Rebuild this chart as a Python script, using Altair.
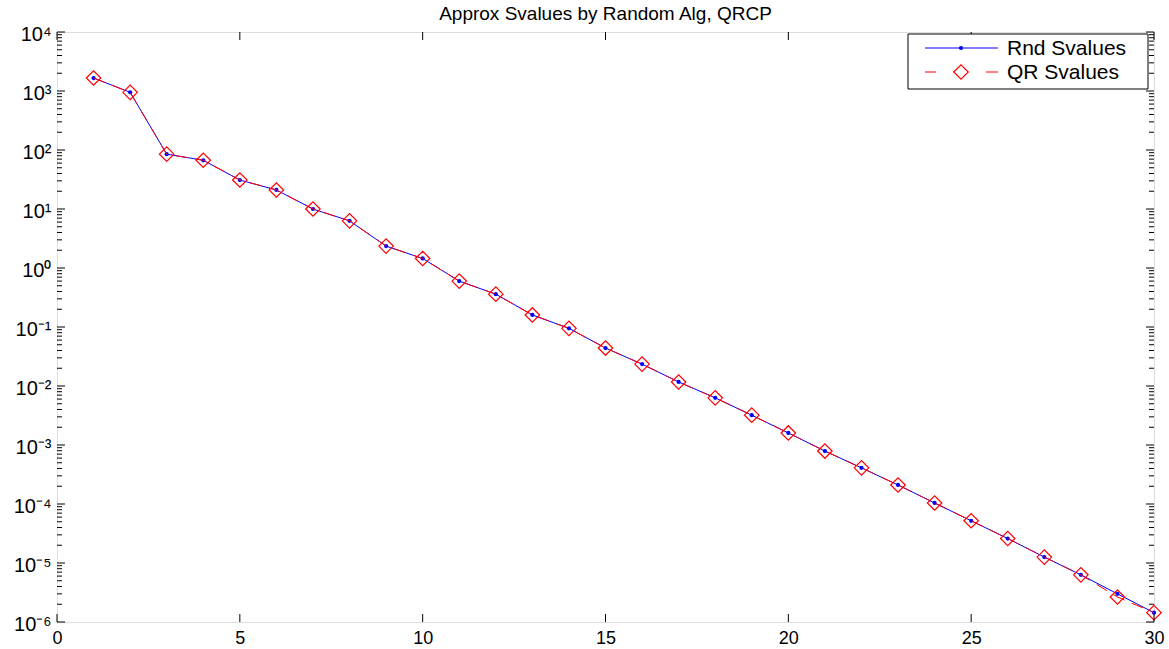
import altair as alt
import pandas as pd

# ---- data ----
k = list(range(1, 31))
rnd_svalues = [1660, 950, 85, 67, 31, 21, 10, 6.3, 2.35, 1.45,
               0.6, 0.36, 0.16, 0.095, 0.044, 0.0235, 0.0117, 0.0063, 0.0032, 0.0016,
               7.9e-4, 4.1e-4, 2.1e-4, 1.04e-4, 5.2e-5, 2.6e-5, 1.26e-5, 6.3e-6, 3.0e-6, 1.44e-6]
qr_svalues = [1660, 950, 85, 67, 31, 21, 10, 6.3, 2.35, 1.45,
              0.6, 0.36, 0.16, 0.095, 0.044, 0.0235, 0.0117, 0.0063, 0.0032, 0.0016,
              7.9e-4, 4.1e-4, 2.1e-4, 1.04e-4, 5.2e-5, 2.6e-5, 1.26e-5, 6.3e-6, 2.65e-6, 1.44e-6]
x_ticks = [0, 5, 10, 15, 20, 25, 30]
y_exponents = [-6, -5, -4, -3, -2, -1, 0, 1, 2, 3, 4]
title_text = "Approx Svalues by Random Alg, QRCP"
legend_labels = ["Rnd Svalues", "QR Svalues"]

W, H = 1097, 590
FONT = "Liberation Sans"

sup = {"-": "⁻", "0": "⁰", "1": "¹", "2": "²", "3": "³", "4": "⁴",
       "5": "⁵", "6": "⁶", "7": "⁷", "8": "⁸", "9": "⁹"}
def sup_str(e):
    return "".join(sup[c] for c in str(e))

y_major = [10.0 ** e for e in y_exponents]
y_minor = [m * 10.0 ** e for e in y_exponents[:-1] for m in range(2, 10)]

parts = []
for e in y_exponents[::-1]:
    parts.append(f"datum.value > {10.0 ** e * 0.5} ? '10{sup_str(e)}'")
label_expr = " : ".join(parts) + " : ''"

df = pd.DataFrame({"k": k, "rnd": rnd_svalues, "qr": qr_svalues})

xscale = alt.Scale(domain=[0, 30], nice=False, zero=False)
yscale = alt.Scale(type="log", domain=[1e-6, 1e4], nice=False)

xaxis = alt.Axis(values=x_ticks, ticks=False, domain=False, grid=False, labelFont=FONT,
                 labelFontSize=18, labelColor="black", labelPadding=7, title=None,
                 labelFlush=False)
yaxis = alt.Axis(values=y_major, ticks=False, domain=False, grid=False, labelFont=FONT,
                 labelFontSize=20, labelColor="black", labelPadding=6, title=None,
                 labelExpr=label_expr, labelFlush=False, labelOffset=2)

def X(field):
    return alt.X(field, scale=xscale, axis=xaxis)
def Y(field):
    return alt.Y(field, scale=yscale, axis=yaxis)

base = alt.Chart(df)
rnd_line = base.mark_line(color="#0000ff", strokeWidth=1).encode(x=X("k:Q"), y=Y("rnd:Q"))
rnd_pts = base.mark_point(shape="circle", filled=True, color="#0000ff", size=18, opacity=1).encode(
    x=X("k:Q"), y=Y("rnd:Q"))
qr_line = base.mark_line(color="#ff0000", strokeWidth=1, strokeDash=[12, 8]).encode(
    x=X("k:Q"), y=Y("qr:Q"))
qr_pts = base.mark_point(shape="diamond", filled=False, color="#ff0000", size=210,
                         strokeWidth=1.2, opacity=1).encode(x=X("k:Q"), y=Y("qr:Q"))

# inward tick marks (MATLAB style)
ymaj_df = pd.DataFrame({"v": y_major})
ymin_df = pd.DataFrame({"v": y_minor})
xt_df = pd.DataFrame({"v": x_ticks})

def yticks(d, length):
    left = alt.Chart(d).mark_rule(color="black", strokeWidth=1).encode(
        y=Y("v:Q"), x=alt.value(0), x2=alt.value(length))
    right = alt.Chart(d).mark_rule(color="black", strokeWidth=1).encode(
        y=Y("v:Q"), x=alt.value(W - length), x2=alt.value(W))
    return [left, right]

xtick_b = alt.Chart(xt_df).mark_rule(color="black", strokeWidth=1).encode(
    x=X("v:Q"), y=alt.value(H - 8), y2=alt.value(H))
xtick_t = alt.Chart(xt_df).mark_rule(color="black", strokeWidth=1).encode(
    x=X("v:Q"), y=alt.value(0), y2=alt.value(8))

# legend box
one = pd.DataFrame({"a": [0]})
lx0, lx1, ly0, ly1 = 851, 1091, 2, 57
r1, r2 = 16, 40
leg_box = alt.Chart(one).mark_rect(fill="white", stroke="black", strokeWidth=1).encode(
    x=alt.value(lx0), x2=alt.value(lx1), y=alt.value(ly0), y2=alt.value(ly1))
leg_l1 = alt.Chart(one).mark_rule(color="#0000ff", strokeWidth=1).encode(
    x=alt.value(868), x2=alt.value(941), y=alt.value(r1))
leg_p1 = alt.Chart(one).mark_point(shape="circle", filled=True, color="#0000ff", size=18, opacity=1).encode(
    x=alt.value(904), y=alt.value(r1))
leg_l2a = alt.Chart(one).mark_rule(color="#ff0000", strokeWidth=1).encode(
    x=alt.value(868), x2=alt.value(879), y=alt.value(r2))
leg_l2b = alt.Chart(one).mark_rule(color="#ff0000", strokeWidth=1).encode(
    x=alt.value(929), x2=alt.value(941), y=alt.value(r2))
leg_p2 = alt.Chart(one).mark_point(shape="diamond", filled=False, color="#ff0000", size=210,
                                   strokeWidth=1.2, opacity=1).encode(
    x=alt.value(904), y=alt.value(r2))
leg_t1 = alt.Chart(one).mark_text(text=legend_labels[0], font=FONT, fontSize=21, align="left",
                                  baseline="middle", color="black").encode(
    x=alt.value(950), y=alt.value(r1 + 1))
leg_t2 = alt.Chart(one).mark_text(text=legend_labels[1], font=FONT, fontSize=21, align="left",
                                  baseline="middle", color="black").encode(
    x=alt.value(950), y=alt.value(r2 + 1))

chart = alt.layer(
    rnd_line, rnd_pts, qr_line, qr_pts,
    *yticks(ymaj_df, 8), *yticks(ymin_df, 5), xtick_b, xtick_t,
    leg_box, leg_l1, leg_p1, leg_l2a, leg_l2b, leg_p2, leg_t1, leg_t2,
).properties(
    width=W, height=H,
    title=alt.TitleParams(title_text, font=FONT, fontSize=19, fontWeight="normal",
                          color="black", offset=0),
    autosize=alt.AutoSizeParams(type="none"),
    padding={"left": 57, "top": 32, "right": 15, "bottom": 27},
).configure_view(stroke="black", strokeWidth=1).configure(background="white")

chart.save("out.html", embed_options={"renderer": "svg", "actions": False})
